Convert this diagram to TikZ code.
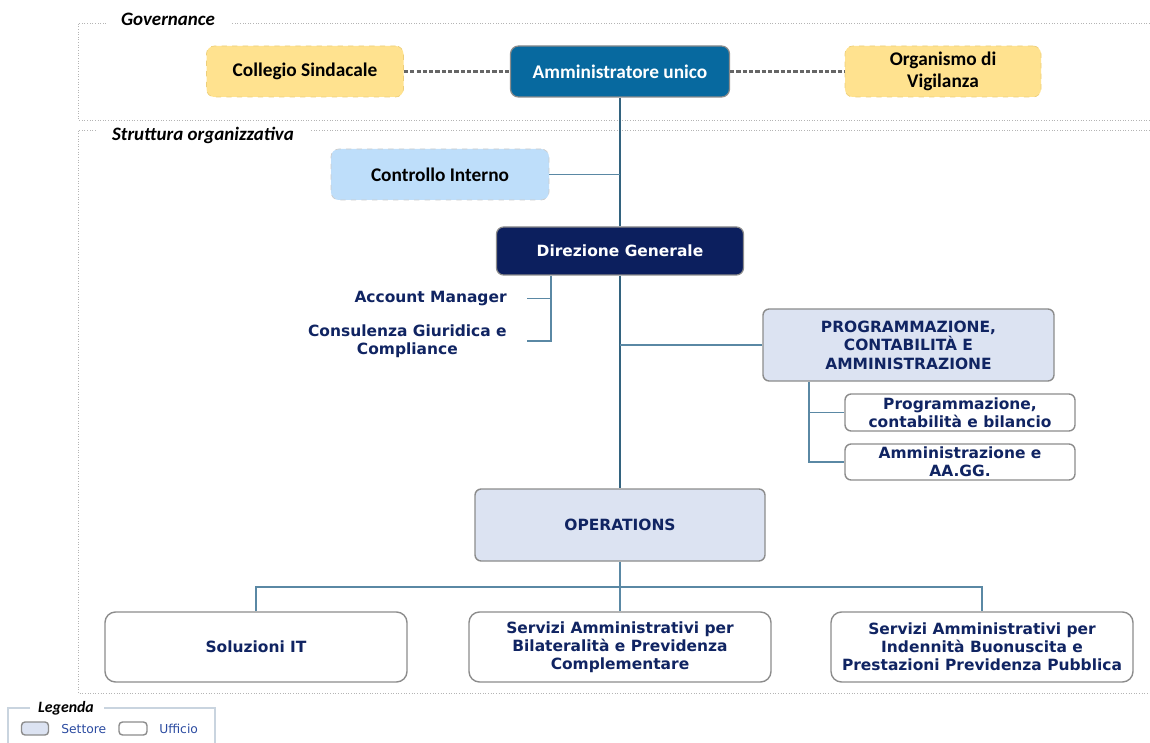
\documentclass[tikz,border=0pt]{standalone}
\usepackage{fontspec}
\setmainfont{DejaVu Sans}
\newfontfamily\carlito{Carlito}
\usetikzlibrary{positioning}
\definecolor{ochre}{HTML}{FFE28F}
\definecolor{ochreline}{HTML}{EDCF7A}
\definecolor{petrol}{HTML}{07699F}
\definecolor{sky}{HTML}{BEDEFA}
\definecolor{navy}{HTML}{0C1F5E}
\definecolor{ink}{HTML}{102462}
\definecolor{lavender}{HTML}{DCE3F2}
\definecolor{edge}{HTML}{8C8C8C}
\definecolor{wire}{HTML}{5A88A4}
\definecolor{spine}{HTML}{33637F}
\definecolor{frameline}{HTML}{B4B4B4}
\definecolor{legline}{HTML}{C9D4DF}
\definecolor{legtext}{HTML}{2A4AA0}
\tikzset{%
    px/.style 2 args={minimum width=#1*0.02cm, minimum height=#2*0.02cm, inner sep=0pt, align=center},
    govbox/.style={draw=ochreline, dashed, fill=ochre, rounded corners=4.5pt, font=\carlito\bfseries\fontsize{11}{12.5}\selectfont},
    headbox/.style={draw=edge, line width=0.7pt, fill=petrol, text=white, rounded corners=4.5pt, font=\carlito\bfseries\fontsize{11}{12.5}\selectfont},
    ctrlbox/.style={draw=black!20, dashed, fill=sky, rounded corners=4.5pt, font=\carlito\bfseries\fontsize{11}{12.5}\selectfont},
    dgbox/.style={draw=edge, line width=0.7pt, fill=navy, text=white, rounded corners=4pt, font=\bfseries\fontsize{8.8}{10.3}\selectfont},
    settore/.style={draw=edge, line width=0.8pt, fill=lavender, text=ink, rounded corners=3.5pt, font=\bfseries\fontsize{8.8}{10.5}\selectfont},
    ufficio/.style={draw=edge, line width=0.8pt, fill=white, text=ink, rounded corners=3.5pt, font=\bfseries\fontsize{8.8}{10.2}\selectfont},
    bigufficio/.style={ufficio, rounded corners=6pt},
    staff/.style={text=ink, inner ysep=0pt, inner xsep=0.4cm, align=center, font=\bfseries\fontsize{8.8}{10.3}\selectfont},
    link/.style={draw=wire, line width=0.8pt},
    spinelink/.style={draw=spine, line width=1pt},
    dashlink/.style={draw=black!60, line width=1.3pt, dash pattern=on 2.4pt off 1.2pt},
    frame/.style={draw=frameline, line width=0.5pt, densely dotted},
    tag/.style={fill=white, inner sep=0pt, font=\carlito\bfseries\itshape\fontsize{10.8}{12}\selectfont}
}
\begin{document}
\begin{tikzpicture}[x=0.02cm, y=-0.02cm]
\useasboundingbox (0,0) rectangle (1150,743);
\draw[frame] (1150,23) -- (78,23) -- (78,120) -- (1150,120);
\draw[frame] (1150,130) -- (78,130) -- (78,693) -- (1150,693);
\node[tag, px={125}{38}] (govtag) at (168,19) {Governance};
\node[tag, px={215}{22}] (strtag) at (203,135) {Struttura organizzativa};

\node[govbox, px={197}{51}] (colleg) at (305,71.5) {Collegio Sindacale};
\node[headbox, px={219}{51}] (amm) at (620,71.5) {Amministratore unico};
\node[govbox, px={196}{51}] (odv) at (943,71.5) {Organismo di\\Vigilanza};
\node[ctrlbox, px={218}{51}] (ctrl) at (440,174.5) {Controllo Interno};
\node[dgbox, px={247}{48}] (dg) at (620,251) {Direzione Generale};
\node[staff, anchor=east] (acc) at (527,298.5) {Account Manager};
\node[staff, anchor=east] (cons) at (527,341) {Consulenza Giuridica e\\Compliance};
\node[settore, px={291}{72}] (prog) at (908.5,345) {PROGRAMMAZIONE,\\CONTABILITÀ E\\AMMINISTRAZIONE};
\node[ufficio, px={230}{37}] (pcb) at (960,412.5) {Programmazione,\\contabilità e bilancio};
\node[ufficio, px={230}{36}] (aag) at (960,462) {Amministrazione e\\AA.GG.};
\node[settore, px={290}{72}] (ops) at (620,525) {OPERATIONS};
\node[bigufficio, px={302}{70}] (sit) at (256,647) {Soluzioni IT};
\node[bigufficio, px={302}{70}] (sbp) at (620,647) {Servizi Amministrativi per\\Bilateralità e Previdenza\\Complementare};
\node[bigufficio, px={302}{70}] (sip) at (982,647) {Servizi Amministrativi per\\Indennità Buonuscita e\\Prestazioni Previdenza Pubblica};

\coordinate (dgx) at (551,0);
\coordinate (pgx) at (809,0);
\coordinate (bus) at (0,587);
\draw[dashlink] (colleg) -- (amm);
\draw[dashlink] (amm) -- (odv);
\draw[spinelink] (amm) -- (dg);
\draw[spinelink] (dg) -- (ops);
\draw[link] (ctrl.east) -- (ctrl.east -| amm);
\draw[link] (dg.south -| dgx) |- (cons.east);
\draw[link] (acc.east) -- (acc.east -| dgx);
\draw[link] (prog.west) -- (prog.west -| amm);
\draw[link] (prog.south -| pgx) |- (aag.west);
\draw[link] (pcb.west) -- (pcb.west -| pgx);
\draw[link] (ops) -- (sbp);
\draw[link] (sit.north) -- (sit.north |- bus) -- (sip.north |- bus) -- (sip.north);

\draw[draw=legline, line width=0.8pt] (30,708) -- (8,708) -- (8,743);
\draw[draw=legline, line width=0.8pt] (104,708) -- (215,708) -- (215,743);
\node[tag, font=\carlito\bfseries\itshape\fontsize{9}{11}\selectfont] (legtag) at (66,708) {Legenda};
\node[settore, px={27}{13}, rounded corners=2pt] (legset) at (35,728.5) {};
\node[anchor=west, inner sep=0pt, text=legtext, font=\fontsize{7}{8}\selectfont] (legsett) at (61,729) {Settore};
\node[ufficio, px={28}{13}, rounded corners=2pt] (leguff) at (133,728.5) {};
\node[anchor=west, inner sep=0pt, text=legtext, font=\fontsize{7}{8}\selectfont] (leguft) at (159,729) {Ufficio};
\end{tikzpicture}
\end{document}
